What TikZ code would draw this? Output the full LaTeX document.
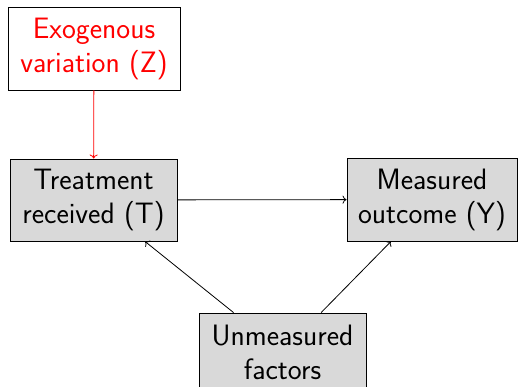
\documentclass[tikz,border=0pt]{standalone}
\usetikzlibrary{arrows.meta}
\begin{document}
\begin{tikzpicture}[x=1pt,y=1pt,
  box/.style={draw=black, line width=0.9pt, align=center, inner sep=0pt,
    font=\sffamily\fontsize{29.5}{34}\selectfont},
  grey/.style={box, fill=gray!30},
  conn/.style={-{To[length=4pt,width=8pt]}, line width=0.8pt}]
\useasboundingbox (0,0) rectangle (518,-387);
\begin{scope}
\clip (0,0) rectangle (518,-387);
\node[box, text=red, minimum width=172pt, minimum height=83pt] (Z) at (94,-48.5) {Exogenous\\variation (Z)};
\node[grey, minimum width=167pt, minimum height=82pt] (T) at (93.5,-200) {Treatment\\received (T)};
\node[grey, minimum width=170pt, minimum height=83pt] (Y) at (432,-199.5) {Measured\\outcome (Y)};
\node[grey, minimum width=167pt, minimum height=78pt] (U) at (282.5,-352) {Unmeasured\\factors};
\draw[conn, red] (Z) -- (T);
\draw[conn] (T) -- (Y);
\draw[conn] (U) -- (T);
\draw[conn] (U) -- (Y);
\end{scope}
\end{tikzpicture}
\end{document}
